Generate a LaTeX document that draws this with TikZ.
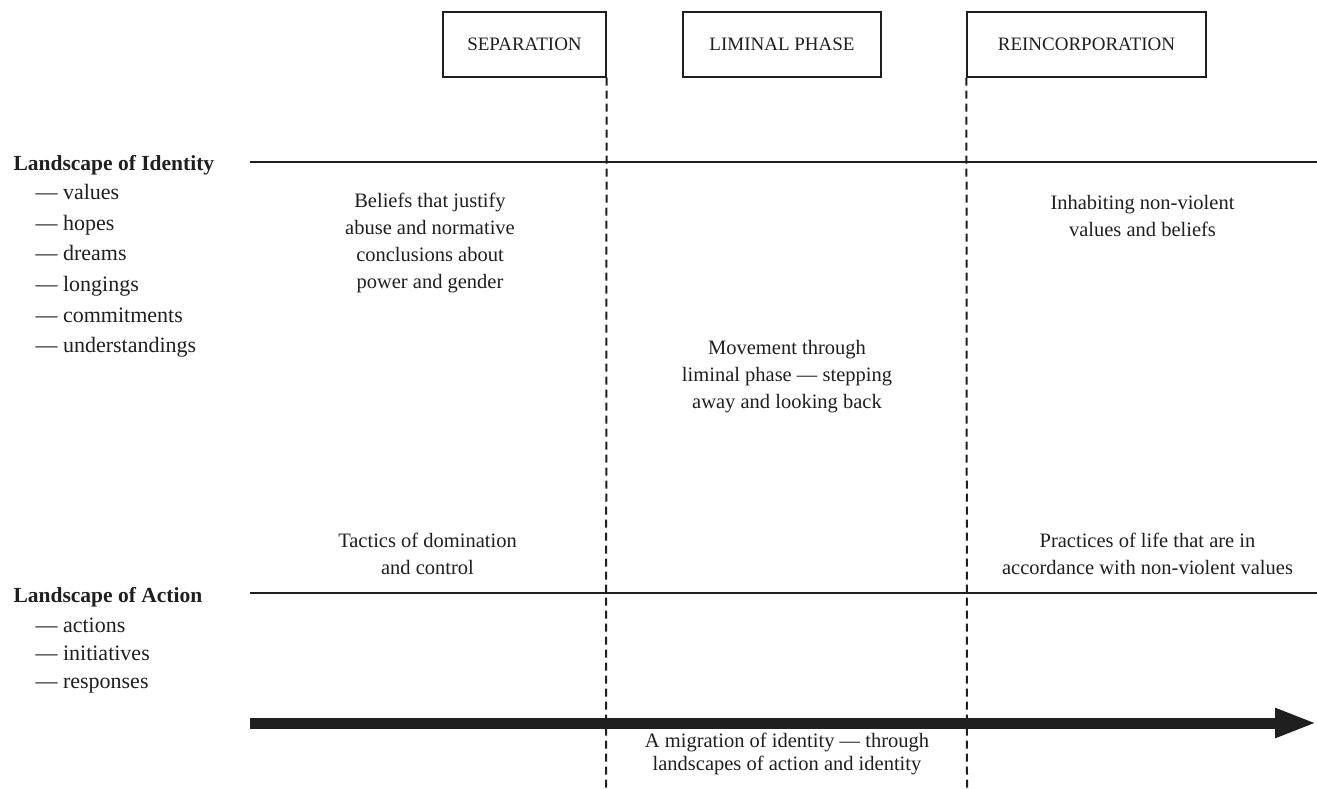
\documentclass[tikz,border=0pt]{standalone}
\usepackage{fontspec}
\setmainfont{Liberation Serif}
\usetikzlibrary{positioning,arrows.meta}

\definecolor{ink}{gray}{0.12}

\begin{document}
\begin{tikzpicture}[x=1pt,y=-1pt,
	every node/.style={text=ink,font=\fontsize{20.5}{27}\selectfont},
	phase/.style={draw=ink,line width=1.2pt,minimum height=65pt,inner sep=0pt,font=\fontsize{19}{22}\selectfont},
	note/.style={align=center},
	rule/.style={draw=ink,line width=2.4pt},
	divider/.style={draw=ink,line width=2pt,dash pattern=on 8pt off 5pt},
	head/.style={anchor=base west,font=\fontsize{21.5}{30}\bfseries\selectfont},
	item/.style={anchor=base west,font=\fontsize{22}{30}\selectfont}]

		\useasboundingbox (0,0) rectangle (1317,788);

		%phase boxes
		\node[phase,minimum width=163pt] (sep) at (524.5,44.5) {SEPARATION};
		\node[phase,minimum width=198pt] (lim) at (782,44.5) {LIMINAL PHASE};
		\node[phase,minimum width=239pt] (reinc) at (1086.5,44.5) {REINCORPORATION};

		%phase borders
		\coordinate (sepend) at (606,788);
		\coordinate (reincend) at (967,788);
		\draw[divider] (sep.south east) -- (sepend);
		\draw[divider] (reinc.south west) -- (reincend);

		%landscapes
		\coordinate (idl) at (250,162);
		\coordinate (idr) at (1317,162);
		\coordinate (acl) at (250,593);
		\coordinate (acr) at (1317,593);
		\draw[rule] (idl) -- (idr);
		\draw[rule] (acl) -- (acr);

		%migration arrow
		\coordinate (mig1) at (250,723);
		\coordinate (mig2) at (1317,723);
		\draw[draw=ink,line width=11pt,-{Triangle[length=42pt,width=27pt]}] (mig1) -- (mig2);

		%left labels
		\node[head] (idhead) at (10,170) {Landscape of Identity};
		\foreach \w [count=\i] in {values,hopes,dreams,longings,commitments,understandings}
			\node[item] (id\i) at (32,{169+30.6*\i}) {— \w};
		\node[head] (achead) at (10,602) {Landscape of Action};
		\foreach \w [count=\i] in {actions,initiatives,responses}
			\node[item] (ac\i) at (32,{604+28*\i}) {— \w};

		%notes
		\node[note] (beliefs) at (430,243) {Beliefs that justify\\abuse and normative\\conclusions about\\power and gender};
		\node[note] (inhabit) at (1142.5,216) {Inhabiting non-violent\\values and beliefs};
		\node[note] (movement) at (787,377) {Movement through\\liminal phase — stepping\\away and looking back};
		\node[note] (tactics) at (427.5,554) {Tactics of domination\\and control};
		\node[note] (practices) at (1147.5,554) {Practices of life that are in\\accordance with non-violent values};
		\node[note,font=\fontsize{20.5}{23}\selectfont] (migration) at (787,754) {A migration of identity — through\\landscapes of action and identity};

\end{tikzpicture}
\end{document}
